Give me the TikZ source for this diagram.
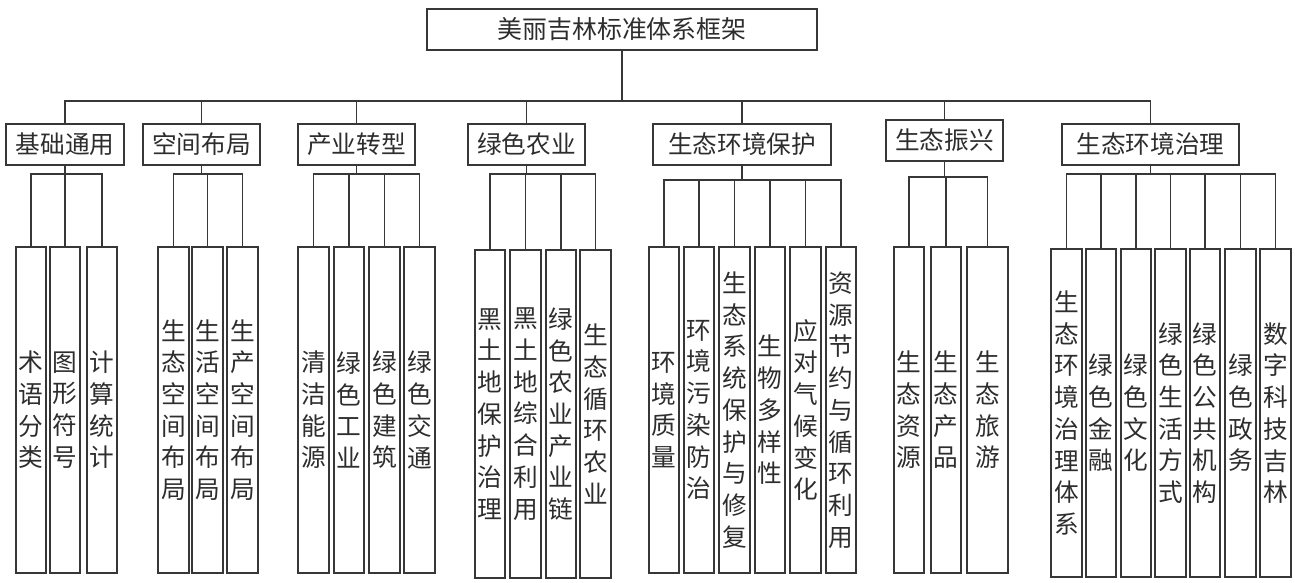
\documentclass[tikz,border=0pt]{standalone}
\usepackage{fontspec}
\newfontfamily\cjk{Noto Sans CJK SC}
\usepackage{tikz}

\definecolor{linegray}{RGB}{55, 55, 55}
\definecolor{textgray}{RGB}{45, 45, 45}

\def\px{0.75pt}

\begin{document}
\begin{tikzpicture}[x=0.75pt, y=-0.75pt, line width=1.3pt, draw=linegray,
  box/.style={draw=linegray, text=textgray, inner sep=0pt, align=center, font=\cjk\fontsize{18.5}{23.8}\selectfont},
  midbox/.style={box, minimum height=41*\px},
  leafbox/.style={box, minimum width=30.5*\px, minimum height=326*\px}]

\useasboundingbox (0,0) rectangle (1295,582);

% Root
\node[midbox, minimum width=390*\px, font=\cjk\fontsize{18.7}{22}\selectfont] (framework) at (622,29.5) {美丽吉林标准体系框架};

% Second level
\node[midbox, minimum width=118*\px] (basic) at (65,144.5) {基础通用};
\node[midbox, minimum width=117*\px] (layout) at (201.5,144.5) {空间布局};
\node[midbox, minimum width=117*\px] (industry) at (356.5,144.5) {产业转型};
\node[midbox, minimum width=117*\px] (farming) at (526.5,144.5) {绿色农业};
\node[midbox, minimum width=178*\px] (protect) at (742,144.5) {生态环境保护};
\node[midbox, minimum width=117*\px] (revive) at (944.5,140.5) {生态振兴};
\node[midbox, minimum width=177*\px] (govern) at (1150.5,144.5) {生态环境治理};

% Leaves of 基础通用
\node[leafbox] (basic1) at (31,410) {术\\语\\分\\类};
\node[leafbox] (basic2) at (65,410) {图\\形\\符\\号};
\node[leafbox] (basic3) at (102,410) {计\\算\\统\\计};

% Leaves of 空间布局
\node[leafbox] (layout1) at (173.5,410) {生\\态\\空\\间\\布\\局};
\node[leafbox] (layout2) at (207.5,410) {生\\活\\空\\间\\布\\局};
\node[leafbox] (layout3) at (242.5,410) {生\\产\\空\\间\\布\\局};

% Leaves of 产业转型
\node[leafbox] (industry1) at (313.5,410) {清\\洁\\能\\源};
\node[leafbox] (industry2) at (349,410) {绿\\色\\工\\业};
\node[leafbox] (industry3) at (384.5,410) {绿\\色\\建\\筑};
\node[leafbox] (industry4) at (419.5,410) {绿\\色\\交\\通};

% Leaves of 绿色农业
\node[leafbox, minimum height=328*\px] (farming1) at (490,414) {黑\\土\\地\\保\\护\\治\\理};
\node[leafbox, minimum height=328*\px] (farming2) at (525.5,414) {黑\\土\\地\\综\\合\\利\\用};
\node[leafbox, minimum height=328*\px] (farming3) at (561,414) {绿\\色\\农\\业\\产\\业\\链};
\node[leafbox, minimum height=328*\px] (farming4) at (595.5,414) {生\\态\\循\\环\\农\\业};

% Leaves of 生态环境保护
\node[leafbox] (protect1) at (664,410) {环\\境\\质\\量};
\node[leafbox] (protect2) at (699,410) {环\\境\\污\\染\\防\\治};
\node[leafbox] (protect3) at (734.5,410) {生\\态\\系\\统\\保\\护\\与\\修\\复};
\node[leafbox] (protect4) at (770,410) {生\\物\\多\\样\\性};
\node[leafbox] (protect5) at (805.5,410) {应\\对\\气\\候\\变\\化};
\node[leafbox] (protect6) at (841,410) {资\\源\\节\\约\\与\\循\\环\\利\\用};

% Leaves of 生态振兴
\node[leafbox] (revive1) at (909,410) {生\\态\\资\\源};
\node[leafbox] (revive2) at (946,410) {生\\态\\产\\品};
\node[leafbox, minimum width=41*\px] (revive3) at (987.5,410) {生\\态\\旅\\游};

% Leaves of 生态环境治理
\node[leafbox, minimum height=328*\px] (govern1) at (1066.5,413) {生\\态\\环\\境\\治\\理\\体\\系};
\node[leafbox, minimum height=328*\px] (govern2) at (1101,413) {绿\\色\\金\\融};
\node[leafbox, minimum height=328*\px] (govern3) at (1136,413) {绿\\色\\文\\化};
\node[leafbox, minimum height=328*\px] (govern4) at (1170.5,413) {绿\\色\\生\\活\\方\\式};
\node[leafbox, minimum height=328*\px] (govern5) at (1205,413) {绿\\色\\公\\共\\机\\构};
\node[leafbox, minimum height=328*\px] (govern6) at (1240.5,413) {绿\\色\\政\\务};
\node[leafbox, minimum height=328*\px] (govern7) at (1275.5,413) {数\\字\\科\\技\\吉\\林};

% Top bus
\coordinate (bus) at (622,101);
\draw (framework.south) -- (bus);
\draw (basic.north) |- (bus) -| (govern.north);
\foreach \m in {layout, industry, farming, protect, revive}
  \draw (\m.north) -- (\m.north |- bus);

% Group buses
\coordinate (basicbus) at (65,174);
\coordinate (layoutbus) at (201.5,174);
\coordinate (industrybus) at (356.5,174);
\coordinate (farmingbus) at (526.5,174);
\coordinate (protectbus) at (742,180);
\coordinate (revivebus) at (944.5,177);
\coordinate (governbus) at (1150.5,174);

\foreach \g/\last in {basic/3, layout/3, industry/4, farming/4, protect/6, revive/3, govern/7} {
  \draw (\g.south) -- (\g bus);
  \draw (\g1.north) |- (\g bus) -| (\g\last.north);
  \foreach \k in {2,...,\last}
    \draw (\g\k.north) -- (\g\k.north |- \g bus);
}

\end{tikzpicture}
\end{document}
